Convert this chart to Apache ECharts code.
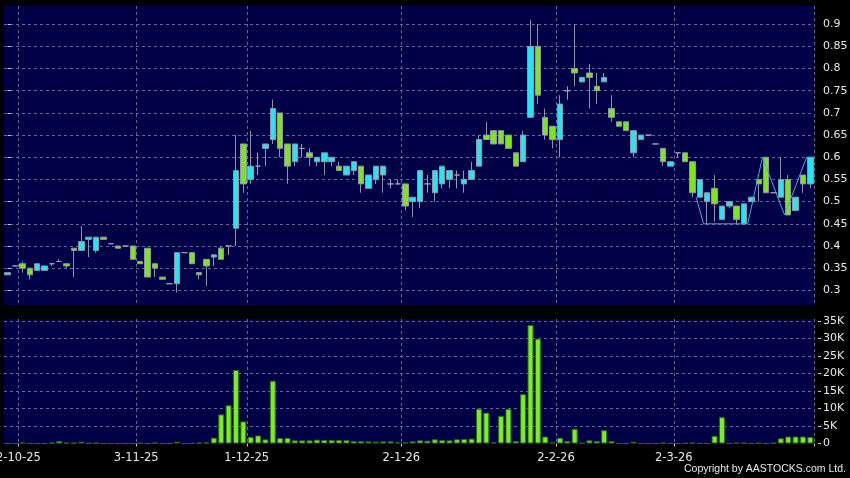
<!DOCTYPE html>
<html><head><meta charset="utf-8">
<script src="https://cdn.jsdelivr.net/npm/echarts@6.0.0/dist/echarts.min.js"></script>
<style>html,body{margin:0;padding:0;background:#000;}#c{width:850px;height:478px;}</style>
</head><body><div id="c"></div>
<script>
// ---- data ----
const tickLabels = ['2-10-25', '3-11-25', '1-12-25', '2-1-26', '2-2-26', '2-3-26'];
const tickIndex = [2, 18, 33, 54, 75, 91];
const priceTicks = [0.3, 0.35, 0.4, 0.45, 0.5, 0.55, 0.6, 0.65, 0.7, 0.75, 0.8, 0.85, 0.9];
const volumeTicks = [0, 5000, 10000, 15000, 20000, 25000, 30000, 35000];

const opens = [
  0.335, 0.355, 0.36, 0.35, 0.345, 0.345, 0.36, 0.365, 0.36, 0.395,
  0.39, 0.415, 0.39, 0.42, 0.405, 0.40, 0.40, 0.40, 0.365, 0.395,
  0.36, 0.33, 0.315, 0.315, 0.385, 0.385, 0.34, 0.37, 0.375, 0.395,
  0.40, 0.44, 0.63, 0.55, 0.58, 0.62, 0.64, 0.70, 0.63, 0.59,
  0.62, 0.61, 0.59, 0.59, 0.59, 0.58, 0.56, 0.57, 0.58, 0.53,
  0.55, 0.56, 0.54, 0.54, 0.54, 0.50, 0.50, 0.54, 0.52, 0.54,
  0.55, 0.56, 0.54, 0.55, 0.58, 0.65, 0.66, 0.66, 0.65, 0.61,
  0.59, 0.69, 0.85, 0.69, 0.67, 0.64, 0.75, 0.80, 0.77, 0.79,
  0.76, 0.77, 0.71, 0.68, 0.68, 0.61, 0.64, 0.65, 0.63, 0.62,
  0.58, 0.61, 0.61, 0.59, 0.51, 0.50, 0.53, 0.46, 0.49, 0.49,
  0.45, 0.50, 0.55, 0.60, 0.52, 0.51, 0.55, 0.48, 0.56, 0.54
];
const closes = [
  0.34, 0.355, 0.35, 0.335, 0.36, 0.355, 0.36, 0.365, 0.355, 0.39,
  0.41, 0.42, 0.42, 0.415, 0.405, 0.395, 0.40, 0.37, 0.36, 0.33,
  0.35, 0.325, 0.315, 0.385, 0.385, 0.36, 0.335, 0.355, 0.38, 0.37,
  0.40, 0.57, 0.54, 0.58, 0.58, 0.63, 0.71, 0.62, 0.58, 0.63,
  0.62, 0.60, 0.60, 0.61, 0.60, 0.57, 0.58, 0.59, 0.54, 0.56,
  0.58, 0.58, 0.54, 0.54, 0.49, 0.51, 0.57, 0.54, 0.57, 0.58,
  0.57, 0.56, 0.55, 0.57, 0.64, 0.64, 0.63, 0.63, 0.62, 0.58,
  0.65, 0.85, 0.74, 0.65, 0.64, 0.72, 0.75, 0.79, 0.78, 0.78,
  0.75, 0.78, 0.69, 0.67, 0.66, 0.66, 0.65, 0.65, 0.63, 0.59,
  0.59, 0.61, 0.59, 0.52, 0.55, 0.52, 0.495, 0.49, 0.50, 0.46,
  0.495, 0.51, 0.54, 0.52, 0.52, 0.55, 0.47, 0.51, 0.54, 0.60
];
const lows = [
  0.335, 0.355, 0.34, 0.325, 0.345, 0.345, 0.355, 0.365, 0.35, 0.33,
  0.39, 0.375, 0.385, 0.415, 0.405, 0.395, 0.40, 0.37, 0.36, 0.33,
  0.33, 0.325, 0.315, 0.295, 0.385, 0.36, 0.325, 0.31, 0.355, 0.37,
  0.38, 0.40, 0.52, 0.54, 0.56, 0.58, 0.63, 0.60, 0.54, 0.58,
  0.60, 0.58, 0.58, 0.56, 0.58, 0.57, 0.56, 0.56, 0.52, 0.53,
  0.54, 0.52, 0.53, 0.54, 0.48, 0.465, 0.485, 0.52, 0.50, 0.53,
  0.53, 0.53, 0.52, 0.55, 0.58, 0.64, 0.63, 0.63, 0.62, 0.58,
  0.59, 0.69, 0.72, 0.64, 0.62, 0.60, 0.73, 0.76, 0.77, 0.71,
  0.72, 0.77, 0.68, 0.67, 0.66, 0.60, 0.64, 0.65, 0.63, 0.58,
  0.58, 0.60, 0.59, 0.51, 0.51, 0.45, 0.455, 0.46, 0.485, 0.45,
  0.45, 0.50, 0.50, 0.52, 0.52, 0.51, 0.47, 0.48, 0.52, 0.53
];
const highs = [
  0.34, 0.355, 0.365, 0.35, 0.36, 0.355, 0.36, 0.37, 0.36, 0.395,
  0.445, 0.42, 0.42, 0.42, 0.405, 0.40, 0.40, 0.40, 0.365, 0.395,
  0.36, 0.33, 0.315, 0.385, 0.385, 0.385, 0.34, 0.37, 0.38, 0.40,
  0.40, 0.65, 0.63, 0.66, 0.61, 0.63, 0.73, 0.70, 0.63, 0.63,
  0.63, 0.62, 0.60, 0.61, 0.60, 0.59, 0.58, 0.59, 0.58, 0.56,
  0.58, 0.58, 0.55, 0.55, 0.54, 0.51, 0.57, 0.56, 0.57, 0.58,
  0.57, 0.57, 0.57, 0.59, 0.65, 0.68, 0.66, 0.66, 0.65, 0.61,
  0.66, 0.91, 0.90, 0.71, 0.67, 0.74, 0.76, 0.90, 0.78, 0.81,
  0.79, 0.79, 0.74, 0.68, 0.68, 0.66, 0.65, 0.65, 0.63, 0.62,
  0.59, 0.61, 0.61, 0.59, 0.55, 0.52, 0.56, 0.49, 0.50, 0.49,
  0.495, 0.51, 0.55, 0.60, 0.52, 0.60, 0.56, 0.51, 0.56, 0.60
];
const volumes = [
  0, 0, 300, 0, 0, 0, 200, 700, 200, 200,
  500, 100, 200, 0, 0, 0, 0, 0, 100, 0,
  200, 0, 0, 500, 0, 0, 200, 300, 1650, 8300,
  10900, 21000, 6300, 1900, 2300, 1200, 17900, 1600, 1600, 900,
  900, 900, 1100, 1000, 1000, 1000, 950, 700, 700, 600,
  500, 600, 600, 300, 300, 600, 900, 800, 1200, 1000,
  900, 1200, 1300, 1400, 9900, 8800, 300, 7900, 9900, 700,
  14100, 33800, 29900, 2000, 300, 1650, 700, 4200, 100, 900,
  700, 3800, 700, 0, 0, 500, 0, 0, 0, 200,
  0, 0, 100, 200, 0, 0, 2200, 7500, 0, 200,
  200, 0, 150, 0, 150, 1500, 2000, 2000, 2000, 1900
];
// overlay pattern line (category position, price)
const patternPos = [93.5, 94.5, 100.5, 102.5, 105.5, 108.5, 109.5];
const patternVal = [0.51, 0.45, 0.45, 0.60, 0.47, 0.60, 0.60];

// ---- build ----
const categories = opens.map((_, i) => 'D' + i);
const candleData = opens.map((o, i) => [o, closes[i], lows[i], highs[i]]);
const patternData = patternPos.map((p, i) => [p, patternVal[i]]);
const isTick = (i) => tickIndex.indexOf(i) >= 0;

const FONT = 'DejaVu Sans';
const PANEL = '#000046';
const gridLineStyle = {color: '#66669a', type: [3, 3], width: 1};
const labelColor = '#e8e8e8';

const chart = echarts.init(document.getElementById('c'), null, {renderer: 'canvas'});
chart.setOption({
  backgroundColor: '#000000',
  animation: false,
  grid: [
    {left: 4, right: 36, top: 6, height: 299, show: true, backgroundColor: PANEL, borderWidth: 0,
      containLabel: false, outerBoundsMode: 'none'},
    {left: 4, right: 36, top: 319, height: 124.5, show: true, backgroundColor: PANEL, borderWidth: 0,
      containLabel: false, outerBoundsMode: 'none'}
  ],
  xAxis: [
    {
      type: 'category', gridIndex: 0, data: categories, boundaryGap: true,
      axisLine: {show: false}, axisTick: {show: false}, axisLabel: {show: false},
      splitLine: {show: true, interval: (i) => isTick(i), lineStyle: gridLineStyle}
    },
    {
      type: 'category', gridIndex: 1, data: categories, boundaryGap: true, offset: 3,
      axisLine: {show: false},
      axisTick: {show: true, interval: (i) => isTick(i), length: 3, lineStyle: {color: '#cccccc'}},
      axisLabel: {
        show: true, interval: (i) => isTick(i), hideOverlap: false,
        formatter: (v, i) => tickLabels[tickIndex.indexOf(i)] || '',
        color: labelColor, fontSize: 11.5, fontFamily: FONT, margin: 6, padding: [0, 8, 0, 0]
      },
      splitLine: {show: true, interval: (i) => isTick(i), lineStyle: gridLineStyle}
    },
    {type: 'value', gridIndex: 0, min: -0.5, max: 109.5, show: false}
  ],
  yAxis: [
    {
      type: 'value', gridIndex: 0, position: 'right', min: 0.267, max: 0.941,
      splitNumber: 13, minInterval: 0.05, maxInterval: 0.05, offset: 4,
      axisLine: {show: false},
      axisTick: {show: true, length: 3, customValues: priceTicks, lineStyle: {color: '#cccccc'}},
      axisLabel: {customValues: priceTicks,
        color: labelColor, fontSize: 11, fontFamily: FONT, margin: 5},
      splitLine: {show: true, lineStyle: gridLineStyle}
    },
    {
      type: 'value', gridIndex: 1, position: 'right', min: 0, max: 35500,
      splitNumber: 7, minInterval: 5000, maxInterval: 5000, offset: 4,
      axisLine: {show: false},
      axisTick: {show: true, length: 3, customValues: volumeTicks, lineStyle: {color: '#cccccc'}},
      axisLabel: {customValues: volumeTicks, color: labelColor, fontSize: 11, fontFamily: FONT, margin: 5,
        formatter: (v) => v === 0 ? '0' : (v / 1000) + 'K'},
      splitLine: {show: true, showMinLine: false, lineStyle: gridLineStyle}
    }
  ],
  series: [
    {
      type: 'candlestick', xAxisIndex: 0, yAxisIndex: 0, data: candleData, barWidth: 6,
      itemStyle: {
        color: '#22e6f0', color0: '#7ee41c',
        borderColor: '#8c96a8', borderColor0: '#8c96a8', borderColorDoji: '#9ca2b2', borderWidth: 1
      }
    },
    {
      type: 'line', xAxisIndex: 2, yAxisIndex: 0, data: patternData, symbol: 'none',
      lineStyle: {color: '#4aa6e4', width: 1}, z: 3
    },
    {
      type: 'bar', xAxisIndex: 1, yAxisIndex: 1, data: volumes, barWidth: 6,
      itemStyle: {color: '#78f01c', borderColor: '#2c6a0c', borderWidth: 1}
    }
  ],
  graphic: [
    {type: 'text', right: 4, top: 464,
      style: {text: 'Copyright by AASTOCKS.com Ltd.', fill: '#e8e8e8', font: '10.5px "Liberation Sans"'}}
  ]
});
</script>
</body></html>
